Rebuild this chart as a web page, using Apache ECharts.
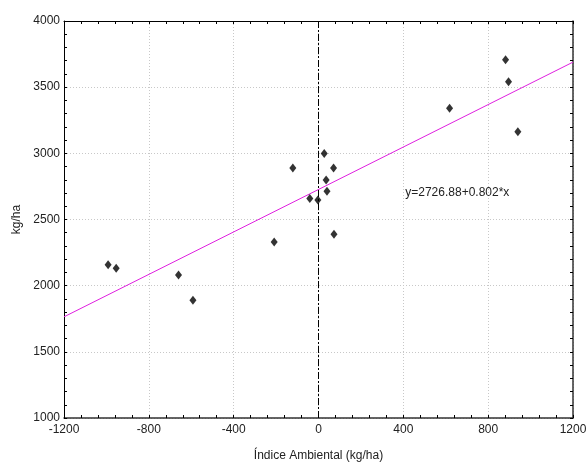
<!DOCTYPE html>
<html>
<head>
<meta charset="utf-8">
<script src="https://cdn.jsdelivr.net/npm/echarts@6/dist/echarts.min.js"></script>
<style>
  html, body { margin: 0; padding: 0; background: #fff; }
  #chart { width: 588px; height: 469px; }
</style>
</head>
<body>
<div id="chart"></div>
<script>
// Environmental index (kg/ha) for each environment
var indiceAmbiental = [-992, -954, -660, -592, -209, -121, -41, -3, 27, 36, 40, 71, 73, 618, 882, 896, 940];
// Yield (kg/ha) observed in each environment
var rendimiento = [2159, 2131, 2081, 1889, 2330, 2890, 2658, 2648, 2998, 2799, 2713, 2890, 2388, 3340, 3708, 3540, 3164];

// Fitted regression: y = a + b*x
var intercepto = 2726.88;
var pendiente = 0.802;
var ecuacion = 'y=2726.88+0.802*x';

var xMin = -1200, xMax = 1200, xStep = 400;
var yMin = 1000, yMax = 4000, yStep = 500;

var puntos = indiceAmbiental.map(function (x, i) { return [x, rendimiento[i]]; });
var recta = [xMin, xMax].map(function (x) { return [x, intercepto + pendiente * x]; });

var font = 'Liberation Sans, Arial, sans-serif';
var plain = function (v) { return String(v); };

var chart = echarts.init(document.getElementById('chart'));

function sideAxis(extra) {
  return Object.assign({
    axisLine: { show: true, onZero: false, lineStyle: { color: '#000', width: 1 } },
    axisTick: { show: true, inside: true, length: 3, lineStyle: { color: '#000' } },
    minorTick: { show: true, splitNumber: 5, length: 3, lineStyle: { color: '#000' } },
    axisLabel: { show: false },
    splitLine: { show: false }
  }, extra);
}

chart.setOption({
  animation: false,
  backgroundColor: '#fff',
  grid: { left: 64, right: 15, top: 21, bottom: 51, containLabel: false, outerBoundsMode: 'none' },
  xAxis: [
    {
      type: 'value', min: xMin, max: xMax, interval: xStep, position: 'bottom',
      name: 'Índice Ambiental (kg/ha)', nameLocation: 'middle', nameGap: 32,
      nameTextStyle: { fontFamily: font, fontSize: 12, color: '#222' },
      axisLine: { show: true, onZero: false, lineStyle: { color: '#333', width: 1.5 } },
      axisTick: { show: true, inside: true, length: 3, lineStyle: { color: '#000' } },
      minorTick: { show: true, splitNumber: 5, length: 3, lineStyle: { color: '#000' } },
      axisLabel: { fontFamily: font, fontSize: 12, color: '#222', margin: 6, formatter: plain },
      splitLine: { show: true, lineStyle: { color: '#c8c8c8', type: [1, 2] } }
    },
    sideAxis({ type: 'value', min: xMin, max: xMax, interval: xStep, position: 'top' })
  ],
  yAxis: [
    {
      type: 'value', min: yMin, max: yMax, interval: yStep, position: 'left',
      name: 'kg/ha', nameLocation: 'middle', nameGap: 38,
      nameTextStyle: { fontFamily: font, fontSize: 12, color: '#222' },
      axisLine: { show: true, onZero: false, lineStyle: { color: '#000', width: 1 } },
      axisTick: { show: true, inside: true, length: 3, lineStyle: { color: '#000' } },
      minorTick: { show: true, splitNumber: 5, length: 3, lineStyle: { color: '#000' } },
      axisLabel: { fontFamily: font, fontSize: 12, color: '#222', margin: 4, formatter: plain },
      splitLine: { show: true, lineStyle: { color: '#c8c8c8', type: [1, 2] } }
    },
    sideAxis({ type: 'value', min: yMin, max: yMax, interval: yStep, position: 'right',
      axisLine: { show: true, onZero: false, lineStyle: { color: '#333', width: 1.5 } } })
  ],
  series: [
    {
      type: 'line',
      data: recta,
      symbol: 'none',
      lineStyle: { color: '#e020e0', width: 1 },
      z: 3,
      markLine: {
        silent: true,
        symbol: ['none', 'none'],
        label: { show: false },
        lineStyle: { color: '#000', width: 1, type: [7, 2, 2, 2] },
        data: [{ xAxis: 0 }]
      },
      markPoint: {
        silent: true,
        symbol: 'circle',
        symbolSize: 0,
        data: [{ coord: [409, 2700] }],
        label: {
          show: true, position: 'right', distance: 0,
          formatter: ecuacion,
          fontFamily: font, fontSize: 12, color: '#222'
        }
      }
    },
    {
      type: 'scatter',
      data: puntos,
      symbol: 'diamond',
      symbolSize: [7, 9],
      itemStyle: { color: '#000' },
      z: 4
    }
  ]
});
</script>
</body>
</html>
